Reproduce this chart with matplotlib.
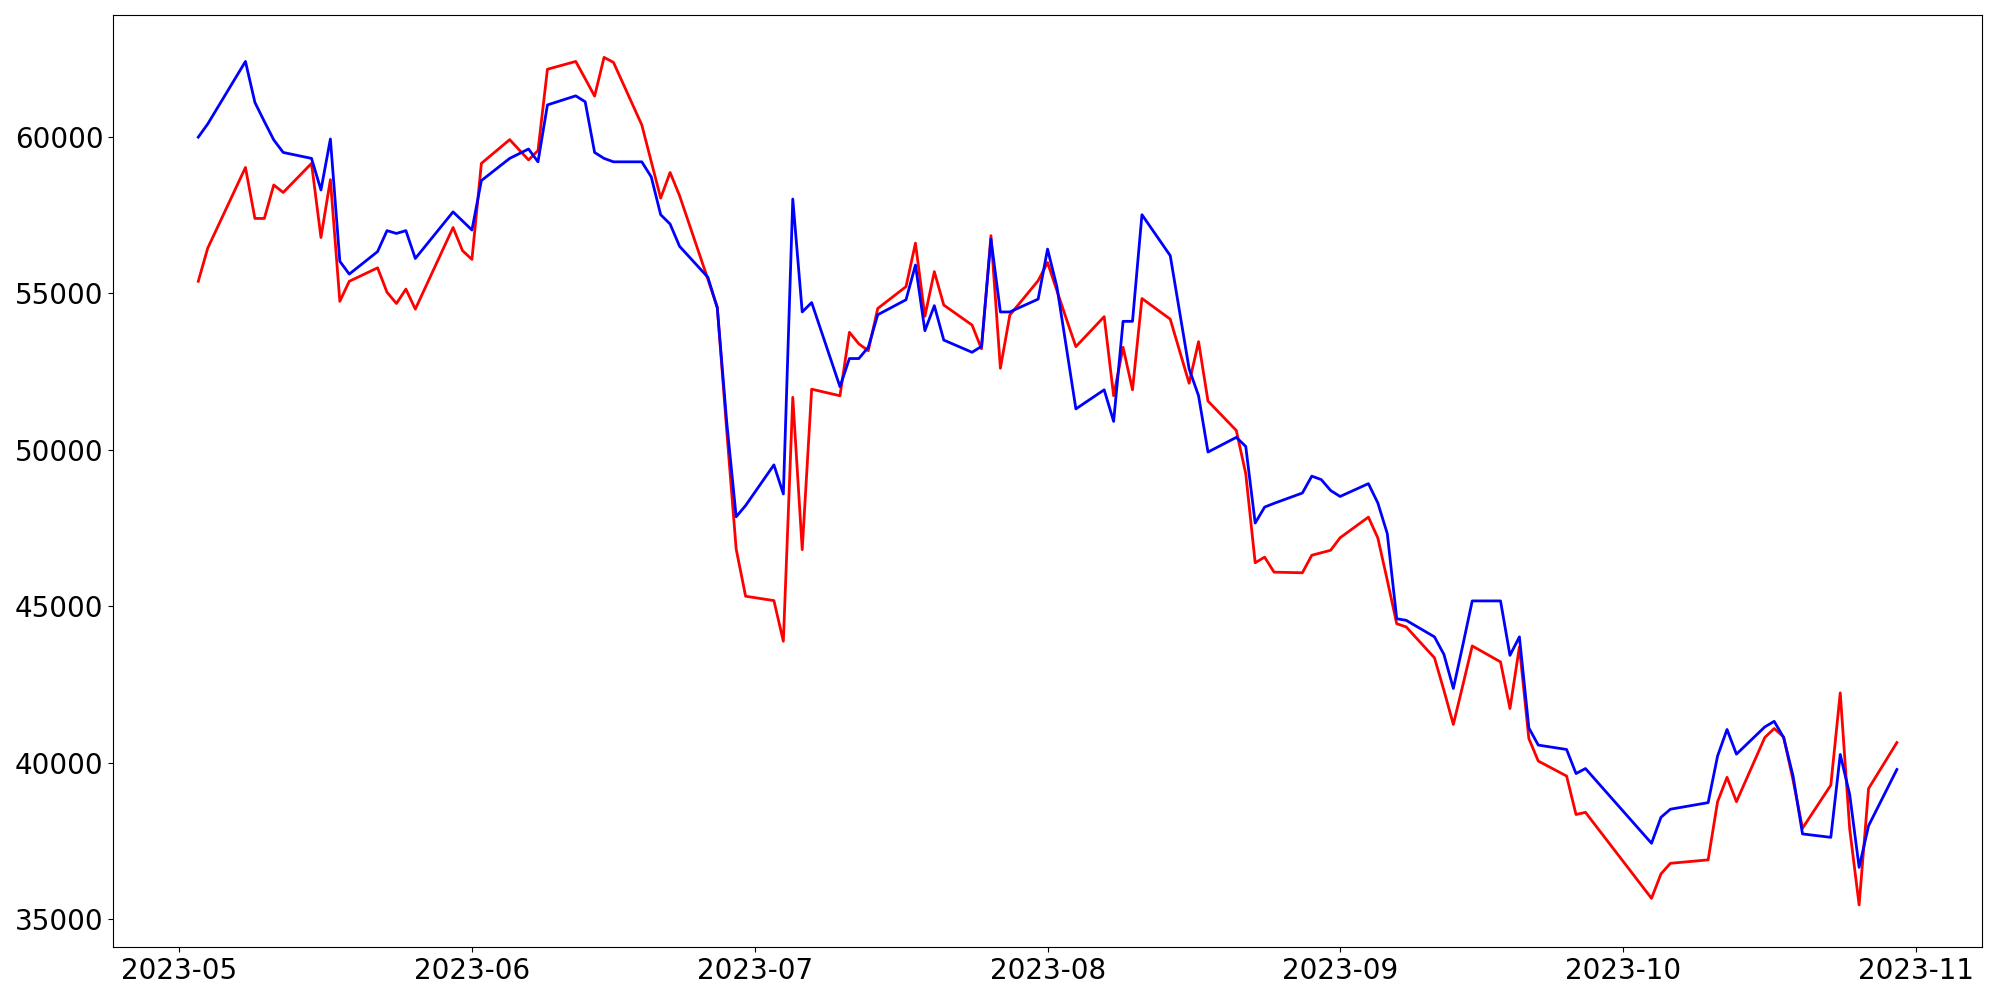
import matplotlib
matplotlib.use("Agg")
import matplotlib.pyplot as plt
import pandas as pd

# trading days (KRX calendar), May 3 - Oct 30 2023
days_by_month = {
    5: [3, 4, 8, 9, 10, 11, 12, 15, 16, 17, 18, 19, 22, 23, 24, 25, 26, 30, 31],
    6: [1, 2, 5, 7, 8, 9, 12, 13, 14, 15, 16, 19, 20, 21, 22, 23, 26, 27, 28, 29, 30],
    7: [3, 4, 5, 6, 7, 10, 11, 12, 13, 14, 17, 18, 19, 20, 21, 24, 25, 26, 27, 28, 31],
    8: [1, 2, 3, 4, 7, 8, 9, 10, 11, 14, 16, 17, 18, 21, 22, 23, 24, 25, 28, 29, 30, 31],
    9: [1, 4, 5, 6, 7, 8, 11, 12, 13, 14, 15, 18, 19, 20, 21, 22, 25, 26, 27],
    10: [4, 5, 6, 10, 11, 12, 13, 16, 17, 18, 19, 20, 23, 24, 25, 26, 27, 30],
}

actual = [
    # May
    60000, 60420, 62420, 61110, 60500, 59910, 59510, 59320, 58310, 59940,
    56030, 55620, 56340, 57010, 56920, 57010, 56120, 57610, 57320,
    # June
    57030, 58610, 59320, 59620, 59210, 61030, 61320, 61130, 59510, 59320,
    59210, 59210, 58730, 57520, 57220, 56510, 55520, 54540, 50880, 47860, 48220,
    # July
    49520, 48590, 58020, 54410, 54710, 52020, 52920, 52920, 53280, 54320,
    54800, 55910, 53810, 54610, 53510, 53120, 53310, 56740, 54410, 54410, 54820,
    # August
    56420, 55200, 53260, 51310, 51920, 50910, 54110, 54110, 57520, 56210,
    52590, 51730, 49930, 50400, 50110, 47660, 48170, 48290, 48620, 49160,
    49050, 48700,
    # September
    48510, 48920, 48300, 47320, 44600, 44550, 44020, 43460, 42370, 43750,
    45170, 45170, 43430, 44020, 41110, 40560, 40420, 39650, 39810,
    # October
    37420, 38250, 38510, 38720, 40210, 41060, 40270, 41140, 41320, 40800,
    39570, 37720, 37610, 40260, 38980, 36650, 37980, 39780,
]

predicted = [
    # May
    55390, 56450, 59030, 57400, 57400, 58470, 58230, 59160, 56790, 58640,
    54750, 55390, 55820, 55040, 54680, 55140, 54500, 57110, 56370,
    # June
    56090, 59160, 59920, 59270, 59570, 62170, 62420, 61870, 61310, 62550,
    62390, 60390, 59220, 58050, 58870, 58130, 55460, 54560, 50610, 46830, 45320,
    # July
    45180, 43880, 51680, 46810, 51940, 51730, 53760, 53390, 53170, 54520,
    55220, 56610, 54270, 55700, 54630, 53990, 53230, 56850, 52610, 54310, 55410,
    # August
    55990, 55080, 54180, 53300, 54260, 51730, 53280, 51920, 54840, 54180,
    52130, 53460, 51560, 50620, 49240, 46390, 46570, 46090, 46070, 46630,
    46710, 46790,
    # September
    47190, 47850, 47180, 45830, 44440, 44340, 43350, 42310, 41220, 42470,
    43730, 43220, 41730, 43700, 40770, 40050, 39570, 38340, 38410,
    # October
    35660, 36440, 36780, 36890, 38750, 39530, 38750, 40800, 41090, 40820,
    39440, 37900, 39280, 42230, 37880, 35450, 39170, 40640,
]

dates = pd.to_datetime([f"2023-{m:02d}-{d:02d}"
                        for m, days in days_by_month.items() for d in days])

fig, ax = plt.subplots(figsize=(20, 10), dpi=100)
ax.plot(dates, predicted, color="red", linewidth=2)
ax.plot(dates, actual, color="blue", linewidth=2)
plt.xticks(fontsize=20)
plt.yticks(fontsize=20)
plt.tight_layout()
fig.savefig("out.png", dpi=100)
